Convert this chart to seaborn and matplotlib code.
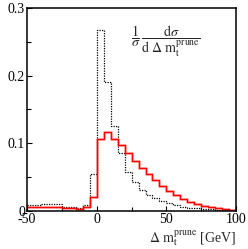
import numpy as np
import pandas as pd
import matplotlib
matplotlib.use("Agg")
import matplotlib.pyplot as plt
import seaborn as sns

# bin edges (GeV)
bin_edges = list(range(-50, 105, 5))

# red (solid) histogram values per bin
red_values = [0.006, 0.006, 0.0065, 0.0065, 0.006, 0.005, 0.005, 0.0035, 0.0055, 0.020,
              0.107, 0.117, 0.107, 0.097, 0.085, 0.074, 0.064, 0.055, 0.046, 0.037,
              0.030, 0.023, 0.018, 0.0135, 0.010, 0.0075, 0.0055, 0.004, 0.0025, 0.0015]

# black dotted histogram values per bin
dot_values = [0.008, 0.008, 0.0095, 0.0095, 0.0095, 0.0065, 0.0065, 0.004, 0.008, 0.055,
              0.267, 0.190, 0.126, 0.085, 0.058, 0.043, 0.031, 0.024, 0.019, 0.015,
              0.011, 0.0085, 0.0064, 0.005, 0.004, 0.003, 0.0025, 0.002, 0.0015, 0.001]

x_ticks = [-50, 0, 50, 100]
x_tick_labels = ["-50", "0", "50", "100"]
y_ticks = [0, 0.1, 0.2, 0.3]
y_tick_labels = ["0", "0.1", "0.2", "0.3"]

sns.set_style("ticks")
plt.rcParams["font.family"] = ["Liberation Serif", "DejaVu Serif"]
plt.rcParams["mathtext.fontset"] = "stix"

edges = np.array(bin_edges, dtype=float)
centers = (edges[:-1] + edges[1:]) / 2
df = pd.DataFrame({"x": centers, "red": red_values, "dot": dot_values})

fig = plt.figure(figsize=(2.48, 2.49), dpi=100)
ax = fig.add_axes([0.109, 0.153, 0.843, 0.815])

sns.histplot(data=df, x="x", weights="dot", binwidth=5, binrange=(-50, 100),
             element="step", fill=False, color="black", linestyle=(0, (1, 1)),
             linewidth=0.9, ax=ax)
sns.histplot(data=df, x="x", weights="red", binwidth=5, binrange=(-50, 100),
             element="step", fill=False, color="#ff3030", alpha=0.3,
             linewidth=2.2, ax=ax)
sns.histplot(data=df, x="x", weights="red", binwidth=5, binrange=(-50, 100),
             element="step", fill=False, color="#ff0000", linewidth=1.0, ax=ax)

ax.set_xlim(-50, 100)
ax.set_ylim(0, 0.3)
ax.set_xticks(x_ticks)
ax.set_xticklabels(x_tick_labels)
ax.set_yticks(y_ticks)
ax.set_yticklabels(y_tick_labels)
ax.set_xticks([-25, 25, 75], minor=True)
ax.set_yticks([0.05, 0.15, 0.25], minor=True)
ax.tick_params(which="both", direction="in", top=False, right=False,
               labelsize=10, width=0.8, pad=1.5, colors="black")
ax.tick_params(which="major", length=3.5)
ax.tick_params(which="minor", length=3.0)
for s in ax.spines.values():
    s.set_visible(True)
    s.set_linewidth(1.1)
    s.set_color("black")
ax.set_xlabel("")
ax.set_ylabel("")

ax.text(0.495, 0.92,
        r"$\dfrac{1}{\sigma}\,\dfrac{\mathrm{d}\sigma}{\mathrm{d}\ \Delta\ \mathrm{m}_{\mathrm{t}}^{\mathrm{prune}}}$",
        transform=ax.transAxes, ha="left", va="top", fontsize=10)
fig.text(0.952, 1 - 238 / 249,
         r"$\Delta\ \mathrm{m}_{\mathrm{t}}^{\mathrm{prune}}$ [GeV]",
         ha="right", va="center", fontsize=10)

fig.savefig("out.png", dpi=100)
